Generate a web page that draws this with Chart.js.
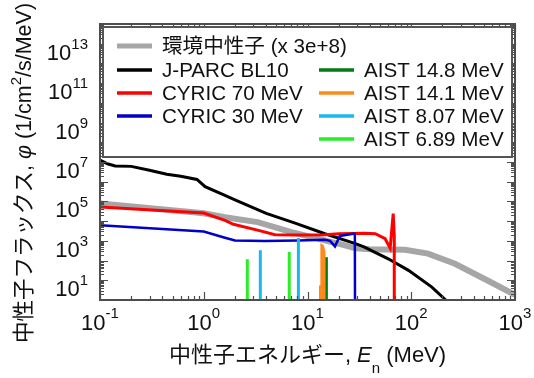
<!DOCTYPE html>
<html>
<head>
<meta charset="utf-8">
<script src="https://cdn.jsdelivr.net/npm/chart.js@4/dist/chart.umd.min.js"></script>
<style>
  html, body { margin: 0; padding: 0; background: #fff; }
  #grafica { display: block; }
</style>
</head>
<body>
<canvas id="grafica" width="534" height="378"></canvas>
<script>
// --- data (energy in MeV, flux in 1/cm2/s/MeV) ---
const seriesNames = [
  "環境中性子 (x 3e+8)",
  "J-PARC BL10",
  "CYRIC 70 MeV",
  "CYRIC 30 MeV",
  "AIST 14.8 MeV",
  "AIST 14.1 MeV",
  "AIST 8.07 MeV",
  "AIST 6.89 MeV"
];
const seriesColors = ["#a6a6a6", "#000000", "#ff0000", "#0000c8", "#007a12", "#ff8a1c", "#18b9ee", "#27ee27"];

const envE    = [0.1, 1.0, 1.6, 3.3, 7.0, 14.7, 23, 29, 40, 87, 145, 264, 544, 1000];
const envFlux = [79000, 25100, 15800, 8900, 2800, 1050, 590, 420, 380, 355, 224, 69, 9.8, 1.8];

const jparcE    = [0.1, 0.12, 0.14, 0.2, 0.3, 0.44, 0.6, 0.86, 1.03, 1.6, 2.0, 4.0, 7.6, 14.7, 29, 35, 60, 94, 158, 215];
const jparcFlux = [1.23e7, 7.9e6, 6.3e6, 6.0e6, 3.8e6, 2.4e6, 1.9e6, 1.3e6, 5.6e5, 2.0e5, 1.2e5, 2.5e4, 7.9e3, 2.3e3, 720, 500, 123, 32, 4.5, 1.0];

const cyric70E    = [0.1, 1.0, 1.6, 1.93, 3.37, 4.86, 8.0, 14.7, 20, 36, 45, 56, 62.6, 67.0, 68.6, 68.6];
const cyric70Flux = [52000, 25700, 11000, 6900, 3400, 2040, 2000, 2040, 2300, 2450, 2300, 1290, 430, 24000, 1800, 0.5];

const cyric30E    = [0.1, 1.0, 1.6, 2.0, 3.87, 8.1, 14.7, 16.5, 18.4, 20.5, 27.6, 28.6, 28.7];
const cyric30Flux = [6200, 3000, 1450, 1050, 980, 1050, 1150, 1000, 525, 1780, 2290, 2290, 0.5];

const aist148E    = [15.2, 15.2];
const aist148Flux = [0.5, 148];

const aist141E    = [13.2, 13.2, 13.6, 13.6, 14.1, 14.6, 14.6];
const aist141Flux = [0.5, 5, 5, 630, 560, 270, 0.5];

const aist807E    = [3.51, 3.51, null, 8.17, 8.17];
const aist807Flux = [0.5, 330, null, 0.5, 1380];

const aist689E    = [2.63, 2.63, null, 6.67, 6.67];
const aist689Flux = [0.5, 115, null, 0.5, 270];

const xTickExp = [-1, 0, 1, 2, 3];
const yTickExp = [1, 3, 5, 7, 9, 11, 13];

function pts(xs, ys) {
  return xs.map((v, i) => v === null ? { x: xs[i - 1], y: null } : { x: v, y: ys[i] });
}

const FONT = '"Liberation Sans", Arial, "Noto Sans CJK JP", sans-serif';
const CJK = '"Liberation Sans", "Noto Sans CJK JP", sans-serif';

// "10" with a superscript exponent
function drawPow(ctx, exp, left, midBase, midSup) {
  ctx.font = "22px " + FONT;
  ctx.textAlign = "left";
  ctx.textBaseline = "middle";
  ctx.fillText("10", left, midBase);
  const w = ctx.measureText("10").width;
  ctx.font = "15px " + FONT;
  ctx.fillText(String(exp), left + w, midSup);
}
function powWidth(ctx, exp) {
  ctx.font = "22px " + FONT;
  const w = ctx.measureText("10").width;
  ctx.font = "15px " + FONT;
  return w + ctx.measureText(String(exp)).width;
}

// pieces of rich text: [text, font, dy]
function richWidth(ctx, parts) {
  let w = 0;
  parts.forEach(p => { ctx.font = p[1]; w += ctx.measureText(p[0]).width; });
  return w;
}
function drawRich(ctx, parts, x0, y0) {
  let x = x0;
  parts.forEach(p => {
    ctx.font = p[1];
    ctx.fillText(p[0], x, y0 + p[2]);
    x += ctx.measureText(p[0]).width;
  });
}

const framePlugin = {
  id: "frame",
  afterDraw(chart) {
    const { ctx, chartArea: a, scales } = chart;
    const xs = scales.x, ys = scales.y;
    ctx.save();
    ctx.strokeStyle = "#4d4d4d";
    ctx.lineWidth = 1.2;
    ctx.beginPath();
    // x ticks, top and bottom, pointing inward
    for (let e = -1; e <= 3; e++) {
      for (let m = 1; m <= 9; m++) {
        const v = m * Math.pow(10, e);
        if (v > 1000) break;
        const px = Math.round(xs.getPixelForValue(v)) + 0.5;
        const len = m === 1 ? 8 : 4;
        ctx.moveTo(px, a.bottom); ctx.lineTo(px, a.bottom - len);
        ctx.moveTo(px, a.top); ctx.lineTo(px, a.top + len);
      }
    }
    // y ticks, left and right
    for (let e = 0; e <= 14; e++) {
      for (let m = 1; m <= 9; m++) {
        const v = m * Math.pow(10, e);
        if (v > 1e14) break;
        const py = Math.round(ys.getPixelForValue(v)) + 0.5;
        const len = m === 1 ? 8 : 4;
        ctx.moveTo(a.left, py); ctx.lineTo(a.left + len, py);
        ctx.moveTo(a.right, py); ctx.lineTo(a.right - len, py);
      }
    }
    ctx.stroke();
    ctx.lineWidth = 2;
    ctx.strokeRect(a.left, a.top, a.right - a.left, a.bottom - a.top);

    // legend box inside the plot
    const box = { l: 103, t: 27, r: 512, b: 157 };
    ctx.fillStyle = "#fff";
    ctx.fillRect(box.l, box.t, box.r - box.l, box.b - box.t);
    ctx.strokeStyle = "#555";
    ctx.lineWidth = 2;
    ctx.strokeRect(box.l, box.t, box.r - box.l, box.b - box.t);
    const slots = [
      [117, 46], [117, 70], [117, 93], [117, 116],
      [319, 70], [319, 93], [319, 116], [319, 139]
    ];
    ctx.textAlign = "left";
    ctx.textBaseline = "middle";
    chart.data.datasets.forEach((ds, i) => {
      const [lx, ly] = slots[i];
      ctx.strokeStyle = ds.borderColor;
      ctx.lineWidth = i === 0 ? 5 : 3.5;
      ctx.beginPath();
      ctx.moveTo(lx, ly); ctx.lineTo(lx + 35, ly);
      ctx.stroke();
      ctx.fillStyle = "#111";
      ctx.font = "20.6px " + CJK;
      ctx.fillText(ds.label, lx + 45, ly + 1);
    });

    // tick labels
    ctx.fillStyle = "#111";
    xTickExp.forEach(e => {
      const px = xs.getPixelForValue(Math.pow(10, e));
      const w = powWidth(ctx, e);
      drawPow(ctx, e, px - w / 2, 324, 314);
    });
    yTickExp.forEach(e => {
      const py = ys.getPixelForValue(Math.pow(10, e));
      const w = powWidth(ctx, e);
      drawPow(ctx, e, 88 - w, py + 10, py + 1);
    });

    // axis titles
    const f = "22px " + CJK, fi = "italic 22px " + FONT, fs = "15px " + FONT;
    const xt = [["中性子エネルギー, ", f, 0], ["E", fi, 0], ["n", fs, 13], [" (MeV)", f, 0]];
    const xw = richWidth(ctx, xt);
    ctx.textBaseline = "middle";
    drawRich(ctx, xt, (a.left + a.right) / 2 - xw / 2, 356);

    const f2 = "21.5px " + CJK, fi2 = "italic 21.5px " + FONT;
    const yt = [["中性子フラックス, ", f2, 0], ["φ", fi2, 0], [" (1/cm", f2, 0], ["2", fs, -8], ["/s/MeV)", f2, 0]];
    const yw = richWidth(ctx, yt);
    ctx.translate(25, 173);
    ctx.rotate(-Math.PI / 2);
    drawRich(ctx, yt, -yw / 2, 0);
    ctx.restore();
  }
};

const widths = [6, 3, 3, 2.5, 3, 2, 3, 3];
const sets = [
  pts(envE, envFlux), pts(jparcE, jparcFlux), pts(cyric70E, cyric70Flux), pts(cyric30E, cyric30Flux),
  pts(aist148E, aist148Flux), pts(aist141E, aist141Flux), pts(aist807E, aist807Flux), pts(aist689E, aist689Flux)
];

new Chart(document.getElementById("grafica"), {
  type: "scatter",
  data: {
    datasets: sets.map((d, i) => ({
      label: seriesNames[i],
      data: d,
      showLine: true,
      spanGaps: false,
      borderColor: seriesColors[i],
      backgroundColor: seriesColors[i],
      borderWidth: widths[i],
      pointRadius: 0,
      tension: 0,
      fill: i === 5 ? "start" : false,
      order: 8 - i
    }))
  },
  options: {
    responsive: false,
    animation: false,
    devicePixelRatio: 1,
    layout: { padding: { left: 100, right: 19, top: 24, bottom: 78 } },
    scales: {
      x: { type: "logarithmic", min: 0.1, max: 1000, display: false },
      y: { type: "logarithmic", min: 1, max: 1e14, display: false }
    },
    plugins: {
      legend: { display: false },
      tooltip: { enabled: false }
    }
  },
  plugins: [framePlugin]
});
</script>
</body>
</html>
